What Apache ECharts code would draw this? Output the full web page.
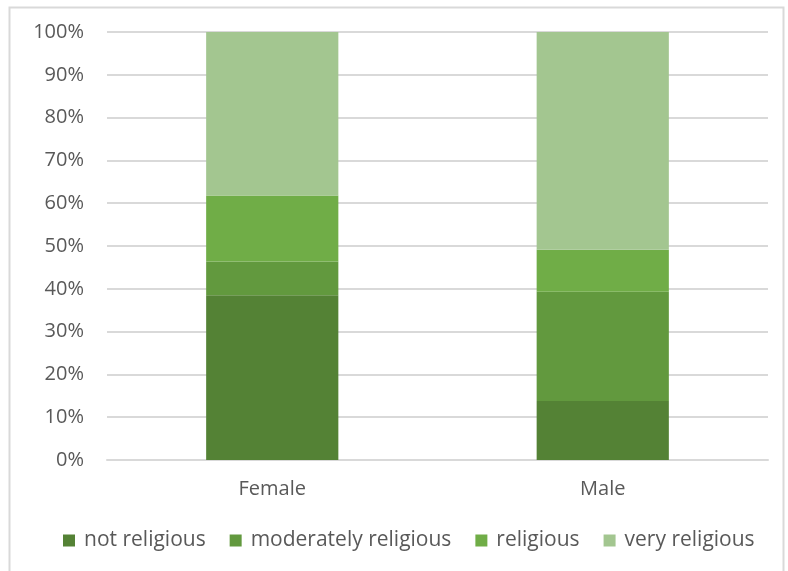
<!DOCTYPE html>
<html>
<head>
<meta charset="utf-8">
<script src="https://cdn.jsdelivr.net/npm/echarts@6/dist/echarts.min.js"></script>
<style>html,body{margin:0;padding:0;background:#fff;}#c{width:788px;height:571px;}</style>
</head>
<body>
<div id="c"></div>
<script>
const categories = ['Female', 'Male'];
const seriesNames = ['not religious', 'moderately religious', 'religious', 'very religious'];
const notReligious = [38.5, 13.8];
const moderatelyReligious = [7.9, 25.5];
const religious = [15.4, 9.8];
const veryReligious = [38.2, 50.9];
const yTicks = [0, 10, 20, 30, 40, 50, 60, 70, 80, 90, 100];

const colors = ['#548235', '#62993E', '#70AD47', '#A3C690'];
const values = [notReligious, moderatelyReligious, religious, veryReligious];
const font = '"Open Sans", "Liberation Sans", sans-serif';

const chart = echarts.init(document.getElementById('c'), null, {renderer: 'canvas'});
chart.setOption({
  animation: false,
  backgroundColor: '#ffffff',
  color: colors,
  graphic: [{
    type: 'rect', left: 7, top: 5, z: -1,
    shape: {width: 774, height: 600},
    style: {fill: 'none', stroke: '#d9d9d9', lineWidth: 2}
  }],
  grid: {left: 107, right: 20, top: 32, bottom: 111, containLabel: false},
  legend: {
    bottom: 15, left: 58,
    itemWidth: 12, itemHeight: 12, itemGap: 24,
    icon: 'rect',
    textStyle: {color: '#595959', fontSize: 21, fontFamily: font, padding: [0, 0, 0, 4]},
    data: seriesNames
  },
  xAxis: {
    type: 'category', data: categories,
    axisLine: {lineStyle: {color: '#d9d9d9', width: 2}},
    axisTick: {show: false},
    axisLabel: {color: '#595959', fontSize: 20, fontFamily: font, margin: 19}
  },
  yAxis: {
    type: 'value', min: yTicks[0], max: yTicks[yTicks.length - 1], interval: 10,
    axisLine: {show: false}, axisTick: {show: false},
    splitLine: {lineStyle: {color: '#d9d9d9', width: 2}},
    axisLabel: {color: '#595959', fontSize: 20, fontFamily: font, margin: 23, formatter: '{value}%'}
  },
  series: seriesNames.map((n, i) => ({
    name: n, type: 'bar', stack: 'total', barWidth: '40%',
    data: values[i], itemStyle: {color: colors[i]}
  }))
});
</script>
</body>
</html>
